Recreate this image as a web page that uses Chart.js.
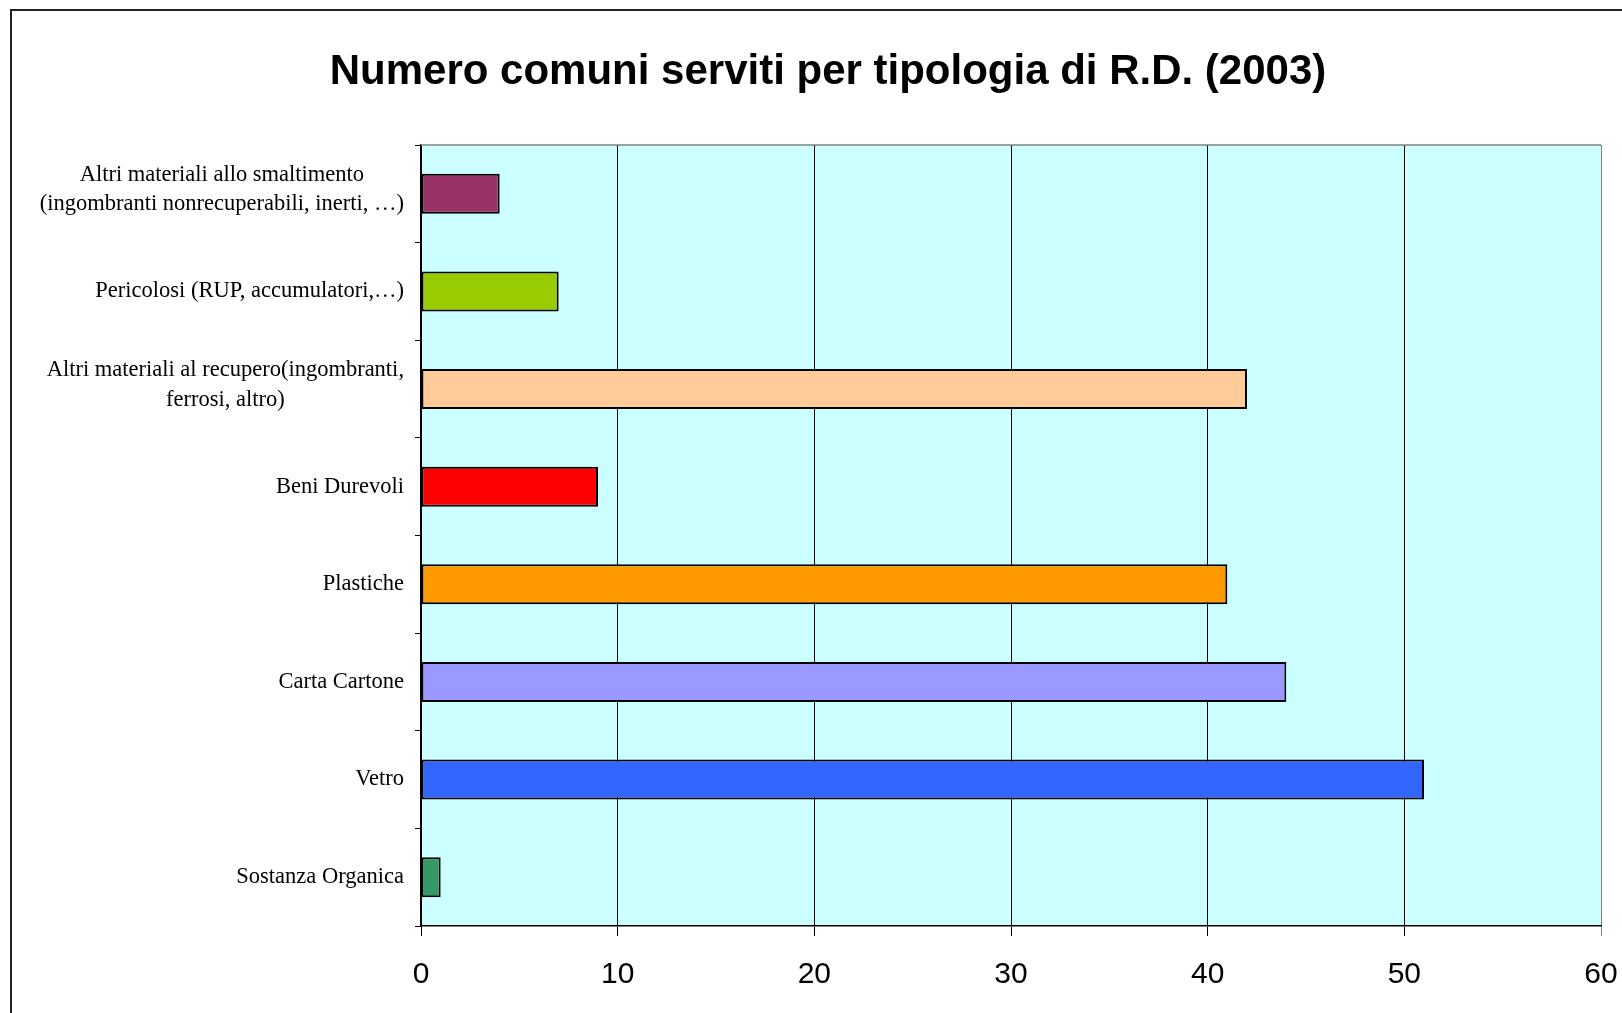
<!DOCTYPE html>
<html>
<head>
<meta charset="utf-8">
<title>Numero comuni serviti per tipologia di R.D. (2003)</title>
<script src="https://cdn.jsdelivr.net/npm/chart.js"></script>
<style>
    html, body { margin: 0; padding: 0; background: #fff; }
    canvas { display: block; }
</style>
</head>
<body>
<canvas id="rdChart" width="1622" height="1013"></canvas>
<script>
// categories, top to bottom (each entry = lines of the label)
const categories = [
    ["Altri materiali allo smaltimento", "(ingombranti nonrecuperabili, inerti, …)"],
    ["Pericolosi (RUP, accumulatori,…)"],
    ["Altri materiali al recupero(ingombranti,", "ferrosi, altro)"],
    ["Beni Durevoli"],
    ["Plastiche"],
    ["Carta Cartone"],
    ["Vetro"],
    ["Sostanza Organica"]
];
const comuni = [4, 7, 42, 9, 41, 44, 51, 1];
const barColors = ["#993366", "#99cc00", "#ffcc99", "#ff0000", "#ff9900", "#9999ff", "#3366ff", "#339966"];
const xTicks = [0, 10, 20, 30, 40, 50, 60];

const LABEL_FONT = '22.5px "Liberation Serif", "Times New Roman", serif';
const LABEL_LINE = 29.5;
const Y_TICK_LEN = 6;
const Y_LABEL_PAD = 11;
const PAD_LEFT = 55;   // also shifts the title centre to the right
const PAD_RIGHT = 21;

// background of plot, outer frame, top plot border, category labels
const framePlugin = {
    id: "frame",
    beforeDraw(chart) {
        const { ctx, chartArea: a } = chart;
        ctx.save();
        ctx.fillStyle = "#ccffff";
        ctx.fillRect(a.left, a.top, a.right - a.left, a.bottom - a.top);
        ctx.restore();
    },
    afterDraw(chart) {
        const { ctx, chartArea: a } = chart;
        ctx.save();

        // outer frame (only left/top are inside the picture)
        ctx.strokeStyle = "#222";
        ctx.lineWidth = 2;
        ctx.beginPath();
        ctx.moveTo(11, 1100);
        ctx.lineTo(11, 10);
        ctx.lineTo(1700, 10);
        ctx.stroke();

        // plot border top
        ctx.strokeStyle = "#808080";
        ctx.lineWidth = 1.5;
        ctx.beginPath();
        ctx.moveTo(a.left, a.top);
        ctx.lineTo(a.right, a.top);
        ctx.stroke();

        // category labels: block right aligned, lines centred on each other
        const yScale = chart.scales.y;
        ctx.font = LABEL_FONT;
        ctx.fillStyle = "#000";
        ctx.textAlign = "center";
        ctx.textBaseline = "middle";
        const right = a.left - Y_TICK_LEN - Y_LABEL_PAD;
        categories.forEach((lines, i) => {
            const widest = Math.max(...lines.map(l => ctx.measureText(l).width));
            const cx = right - widest / 2;
            const cy = yScale.getPixelForValue(i) + (lines.length > 1 ? -4 : 0);
            lines.forEach((l, j) => {
                ctx.fillText(l, cx, cy + (j - (lines.length - 1) / 2) * LABEL_LINE);
            });
        });

        ctx.restore();
    }
};

Chart.defaults.font.family = '"Liberation Sans", Arial, sans-serif';
Chart.defaults.color = "#000";

new Chart(document.getElementById("rdChart"), {
    type: "bar",
    data: {
        labels: categories,
        datasets: [{
            data: comuni,
            backgroundColor: barColors,
            borderColor: "#000",
            borderWidth: 2,
            borderSkipped: false,
            barPercentage: 0.41,
            categoryPercentage: 1.0
        }]
    },
    options: {
        indexAxis: "y",
        responsive: false,
        animation: false,
        devicePixelRatio: 1,
        layout: {
            padding: { top: 0, right: PAD_RIGHT, bottom: 0, left: PAD_LEFT }
        },
        plugins: {
            legend: { display: false },
            tooltip: { enabled: false },
            title: {
                display: true,
                text: "Numero comuni serviti per tipologia di R.D. (2003)",
                font: { size: 42, weight: "bold" },
                color: "#000",
                padding: { top: 47, bottom: 47.6 }
            }
        },
        scales: {
            x: {
                min: xTicks[0],
                max: xTicks[xTicks.length - 1],
                afterFit(scale) {
                    scale.height = 87;
                    scale.paddingLeft = 0;
                    scale.paddingRight = 0;
                },
                afterBuildTicks(scale) {
                    scale.ticks = xTicks.map(v => ({ value: v }));
                },
                ticks: {
                    font: { size: 30 },
                    color: "#000",
                    padding: 21,
                    maxRotation: 0
                },
                grid: {
                    color: (c) => (c.tick && c.tick.value === 60 ? "#808080" : "#000"),
                    lineWidth: 1,
                    tickLength: 10
                },
                border: { color: "#000", width: 1.5 }
            },
            y: {
                afterFit(scale) { scale.width = 421 - PAD_LEFT; },
                ticks: { display: false },
                grid: {
                    drawOnChartArea: false,
                    drawTicks: true,
                    tickLength: Y_TICK_LEN,
                    color: "#000",
                    lineWidth: 1
                },
                border: { color: "#000", width: 1.5 }
            }
        }
    },
    plugins: [framePlugin]
});
</script>
</body>
</html>
